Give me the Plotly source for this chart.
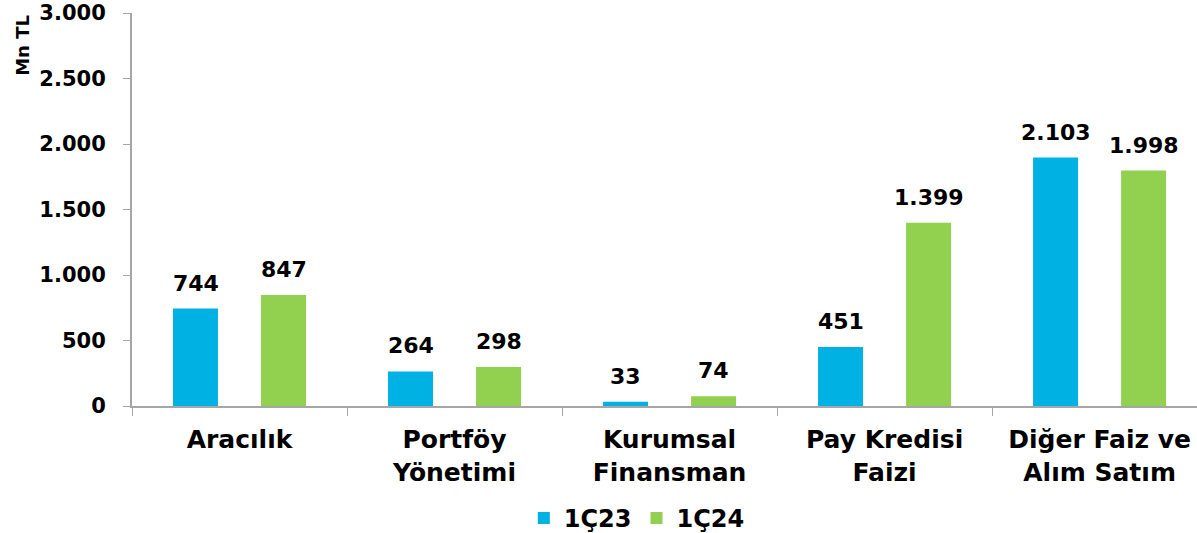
import plotly.graph_objects as go

categories = ["Aracılık", "Portföy<br>Yönetimi", "Kurumsal<br>Finansman",
              "Pay Kredisi<br>Faizi", "Diğer Faiz ve<br>Alım Satım"]
series_names = ["1Ç23", "1Ç24"]
# bar heights as drawn in the picture
values_1c23 = [744, 264, 33, 451, 1896]
values_1c24 = [847, 298, 74, 1399, 1797]
# printed value labels
labels_1c23 = ["744", "264", "33", "451", "2.103"]
labels_1c24 = ["847", "298", "74", "1.399", "1.998"]
y_tickvals = [0, 500, 1000, 1500, 2000, 2500, 3000]
y_ticktext = ["0", "500", "1.000", "1.500", "2.000", "2.500", "3.000"]

BLUE = "#00B2E3"
GREEN = "#92D050"
AXIS = "#A6A6A6"
FONT = "DejaVu Sans"

fig = go.Figure()
fig.add_trace(go.Bar(x=categories, y=values_1c23, name=series_names[0],
                     marker=dict(color=BLUE, line=dict(width=0))))
fig.add_trace(go.Bar(x=categories, y=values_1c24, name=series_names[1],
                     marker=dict(color=GREEN, line=dict(width=0))))

# value labels above the bars
off = 0.2047
for i in range(len(categories)):
    for dx, v, t in ((-off, values_1c23[i], labels_1c23[i]),
                     (off, values_1c24[i], labels_1c24[i])):
        fig.add_annotation(x=i + dx, y=v, text="<b>%s</b>" % t, showarrow=False,
                           yanchor="bottom", yshift=11,
                           font=dict(family=FONT, size=22, color="black"))

fig.add_annotation(xref="paper", yref="paper", x=-0.103, y=1.0,
                   text="<b>Mn TL</b>", textangle=-90, showarrow=False,
                   xanchor="center", yanchor="top",
                   font=dict(family=FONT, size=18, color="black"))

# height goes a little past the window so the legend box has room
fig.update_layout(
    width=1197, height=541,
    margin=dict(l=132, r=0, t=13, b=134),
    paper_bgcolor="white", plot_bgcolor="white",
    barmode="group", bargap=0.181, bargroupgap=0.489,
    font=dict(family=FONT, color="black"),
    legend=dict(orientation="h", x=0.474, xanchor="center", y=-0.287, yanchor="middle",
                font=dict(family=FONT, size=24, color="black", weight="bold"),
                itemwidth=30, traceorder="normal"),
    xaxis=dict(type="category", range=[-0.5, 4.453], showline=True, linecolor=AXIS,
               linewidth=2, ticks="outside", tickson="boundaries", ticklen=8,
               tickcolor=AXIS, tickwidth=1, showgrid=False, zeroline=False,
               automargin=False,
               tickfont=dict(family=FONT, size=25, color="black", weight="bold"),
               ticklabelstandoff=10),
    yaxis=dict(range=[0, 3000], tickvals=y_tickvals, ticktext=y_ticktext,
               showline=True, linecolor=AXIS, linewidth=2, ticks="outside",
               ticklen=7, tickcolor=AXIS, tickwidth=1, showgrid=False, zeroline=False,
               automargin=False, ticklabeloverflow="allow",
               tickfont=dict(family=FONT, size=21, color="black", weight="bold"),
               ticklabelstandoff=13),
)

# drop the browser's default 8px page margin so the figure sits at the window corner
fig.write_html("out.html", config={"displayModeBar": False},
               post_script="document.body.style.margin = '0';")
